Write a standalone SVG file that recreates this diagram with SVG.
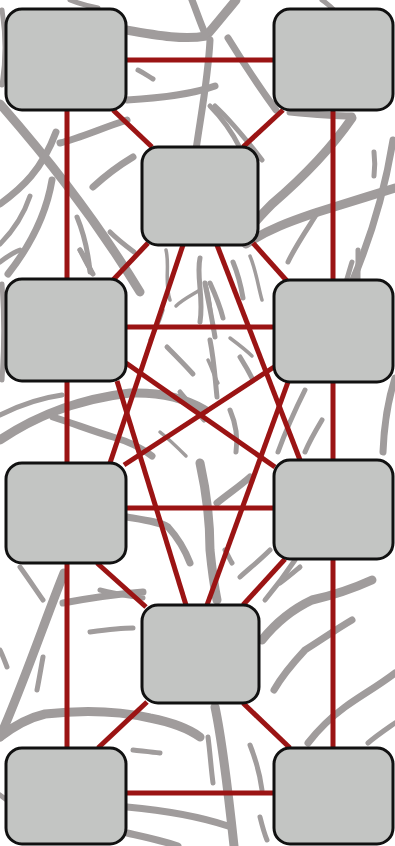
<svg xmlns="http://www.w3.org/2000/svg" width="395" height="846" viewBox="0 0 395 846">
<style>
.bg{fill:none;stroke:#a09c9c;stroke-linecap:round;stroke-linejoin:round}
.w3{stroke-width:3.5}.w5{stroke-width:5}.w7{stroke-width:7}.w9{stroke-width:9}
.link{stroke:#9b1414;stroke-width:5;stroke-linecap:butt}
.box{fill:#c3c5c3;stroke:#111;stroke-width:3}
</style>
<rect width="395" height="846" fill="#ffffff"/>
<g id="background">
<!-- top -->
<path class="bg w9" d="M126,30 C160,36 185,40 206,36 C215,26 226,12 236,0"/>
<path class="bg w7" d="M206,36 C200,22 196,10 192,0"/>
<path class="bg w7" d="M210,40 C208,80 200,120 196,150"/>
<path class="bg w7" d="M228,38 C244,64 260,88 276,110"/>
<path class="bg w7" d="M127,100 C160,98 190,95 215,86"/>
<path class="bg w5" d="M138,70 C144,73 148,76 153,79"/>
<path class="bg w5" d="M210,106 C222,118 232,132 240,148"/>
<path class="bg w5" d="M322,0 C328,4 332,8 336,12"/>
<path class="bg w5" d="M70,0 C80,4 88,6 98,8"/>
<path class="bg w5" d="M2,10 C6,35 6,60 2,85"/>
<path class="bg w7" d="M290,112 C310,114 330,116 352,116"/>
<path class="bg w5" d="M215,106 C230,120 245,138 262,160"/>
<!-- right upper -->
<path class="bg w9" d="M352,118 C330,150 300,180 272,204 C262,214 252,225 244,236"/>
<path class="bg w9" d="M395,188 C370,196 340,205 318,212 C295,220 270,228 246,244"/>
<path class="bg w5" d="M318,212 C308,228 296,245 288,262"/>
<path class="bg w5" d="M374,152 C375,160 375,168 374,176"/>
<path class="bg w7" d="M393,140 C385,190 372,235 352,282"/>
<path class="bg w5" d="M352,262 C350,268 348,276 346,282"/>
<!-- left upper -->
<path class="bg w9" d="M0,104 C40,150 90,210 140,292"/>
<path class="bg w7" d="M0,204 C22,188 42,170 56,132"/>
<path class="bg w7" d="M8,274 C30,246 46,216 52,180"/>
<path class="bg w5" d="M0,244 C14,230 24,214 30,196"/>
<path class="bg w7" d="M60,143 C80,138 102,128 127,120"/>
<path class="bg w7" d="M93,187 C105,176 118,166 133,157"/>
<path class="bg w5" d="M77,217 C84,234 88,250 90,272"/>
<path class="bg w5" d="M80,250 C84,258 88,266 93,274"/>
<path class="bg w5" d="M0,262 C8,256 14,252 20,250"/>
<!-- centre network -->
<path class="bg w5" d="M110,232 C118,240 126,246 134,252"/>
<path class="bg w3" d="M166,250 C170,266 164,282 170,300"/>
<path class="bg w5" d="M200,258 C196,276 204,298 200,322"/>
<path class="bg w3" d="M200,290 C190,296 182,300 176,306"/>
<path class="bg w5" d="M210,283 C215,294 220,306 223,318"/>
<path class="bg w5" d="M233,262 C238,274 241,286 243,298"/>
<path class="bg w3" d="M250,256 C256,270 258,286 262,300"/>
<path class="bg w5" d="M167,347 C176,356 184,364 193,374"/>
<path class="bg w5" d="M210,340 C214,360 215,378 217,397"/>
<path class="bg w5" d="M240,357 C245,365 249,372 253,380"/>
<path class="bg w3" d="M150,340 C156,330 160,320 163,310"/>
<path class="bg w3" d="M230,338 C238,344 246,350 252,356"/>
<path class="bg w5" d="M180,392 C188,402 196,410 204,420"/>
<path class="bg w5" d="M230,410 C236,424 238,438 236,452"/>
<path class="bg w3" d="M160,432 C170,440 178,448 186,456"/>
<path class="bg w5" d="M205,283 C208,300 212,318 215,337"/>
<path class="bg w3" d="M208,360 C212,368 214,376 218,383"/>
<!-- left middle -->
<path class="bg w5" d="M2,284 C4,310 4,350 2,380"/>
<path class="bg w5" d="M80,250 C84,256 88,264 92,273"/>
<path class="bg w9" d="M0,440 C30,420 70,400 130,393 C160,392 185,398 205,410"/>
<path class="bg w5" d="M0,415 C20,405 40,398 62,395"/>
<path class="bg w7" d="M53,417 C75,424 95,432 113,437 C130,442 142,448 152,456"/>
<!-- right middle -->
<path class="bg w5" d="M358,250 C358,262 358,272 358,283"/>
<path class="bg w7" d="M395,378 C388,400 384,425 383,452"/>
<path class="bg w5" d="M322,420 C316,430 310,440 305,452"/>
<path class="bg w5" d="M305,390 C295,410 286,430 278,452"/>
<path class="bg w3" d="M205,283 C212,300 210,320 215,337"/>
<!-- lower centre -->
<path class="bg w9" d="M200,463 C206,490 210,520 210,550 C212,570 214,585 217,600"/>
<path class="bg w7" d="M250,477 C240,486 228,494 217,503"/>
<path class="bg w7" d="M127,517 C145,520 160,522 168,527 C178,538 185,550 190,563"/>
<path class="bg w5" d="M100,590 C115,594 130,596 143,598"/>
<path class="bg w5" d="M270,550 C260,560 250,568 240,577"/>
<path class="bg w5" d="M280,583 C287,578 294,572 300,567"/>
<!-- lower left -->
<path class="bg w9" d="M64,573 C45,620 25,680 0,737"/>
<path class="bg w5" d="M43,657 C41,668 39,680 37,690"/>
<path class="bg w5" d="M20,567 C28,578 36,590 43,600"/>
<path class="bg w7" d="M63,603 C90,598 118,594 143,592"/>
<path class="bg w5" d="M90,632 C105,630 120,628 133,628"/>
<path class="bg w9" d="M0,737 C14,726 28,718 45,714 C80,710 115,710 150,718 C170,722 188,728 200,737"/>
<path class="bg w5" d="M0,650 C3,656 5,662 7,667"/>
<path class="bg w5" d="M133,750 C142,751 152,752 160,753"/>
<!-- lower right -->
<path class="bg w9" d="M372,580 C350,590 330,596 312,600 C295,608 278,620 262,640"/>
<path class="bg w7" d="M352,620 C335,630 318,642 305,650 C292,664 282,676 274,690"/>
<path class="bg w7" d="M395,673 C378,686 360,696 345,707 C330,718 318,730 308,743"/>
<path class="bg w5" d="M395,723 C385,730 376,736 368,743"/>
<path class="bg w5" d="M295,560 C285,575 275,588 265,600"/>
<path class="bg w5" d="M225,550 C228,555 230,560 232,563"/>
<!-- bottom -->
<path class="bg w9" d="M215,707 C222,740 228,790 234,846"/>
<path class="bg w5" d="M208,737 C210,752 211,768 213,783"/>
<path class="bg w7" d="M127,807 C160,810 195,815 228,826"/>
<path class="bg w7" d="M127,833 C145,837 160,840 178,846"/>
<path class="bg w5" d="M260,817 C262,825 264,833 267,840"/>
<path class="bg w5" d="M250,745 C256,760 260,775 262,790"/>
<path class="bg w5" d="M0,795 C3,797 5,799 7,800"/>
</g>
<g id="connectors">
<line class="link" x1="126" y1="60" x2="274" y2="60"/>
<line class="link" x1="113" y1="110" x2="152" y2="147"/>
<line class="link" x1="283" y1="110" x2="243" y2="147"/>
<line class="link" x1="67" y1="110" x2="67" y2="748"/>
<line class="link" x1="333" y1="110" x2="333" y2="748"/>
<line class="link" x1="148" y1="243" x2="113" y2="280"/>
<line class="link" x1="253" y1="243" x2="287" y2="281"/>
<line class="link" x1="126" y1="327" x2="274" y2="327"/>
<line class="link" x1="126" y1="508" x2="274" y2="508"/>
<line class="link" x1="183" y1="245" x2="110" y2="463"/>
<line class="link" x1="217" y1="245" x2="300" y2="460"/>
<line class="link" x1="126" y1="363" x2="275" y2="467"/>
<line class="link" x1="274" y1="367" x2="124" y2="465"/>
<line class="link" x1="117" y1="381" x2="186" y2="605"/>
<line class="link" x1="288" y1="382" x2="207" y2="605"/>
<line class="link" x1="97" y1="563" x2="146" y2="607"/>
<line class="link" x1="285" y1="559" x2="243" y2="605"/>
<line class="link" x1="147" y1="702" x2="98" y2="748"/>
<line class="link" x1="243" y1="703" x2="290" y2="748"/>
<line class="link" x1="126" y1="793" x2="274" y2="793"/>
</g>
<g id="node-top-left"><rect class="box" x="6" y="9" width="120" height="101" rx="16"/></g>
<g id="node-top-right"><rect class="box" x="274" y="9" width="119" height="101" rx="16"/></g>
<g id="node-center-top"><rect class="box" x="142" y="147" width="116" height="98" rx="16"/></g>
<g id="node-left-1"><rect class="box" x="6" y="279" width="120" height="102" rx="16"/></g>
<g id="node-right-1"><rect class="box" x="274" y="280" width="119" height="102" rx="16"/></g>
<g id="node-left-2"><rect class="box" x="6" y="463" width="120" height="100" rx="16"/></g>
<g id="node-right-2"><rect class="box" x="274" y="460" width="119" height="99" rx="16"/></g>
<g id="node-center-bottom"><rect class="box" x="142" y="605" width="117" height="98" rx="16"/></g>
<g id="node-bottom-left"><rect class="box" x="6" y="748" width="120" height="96" rx="16"/></g>
<g id="node-bottom-right"><rect class="box" x="274" y="748" width="119" height="96" rx="16"/></g>
</svg>
